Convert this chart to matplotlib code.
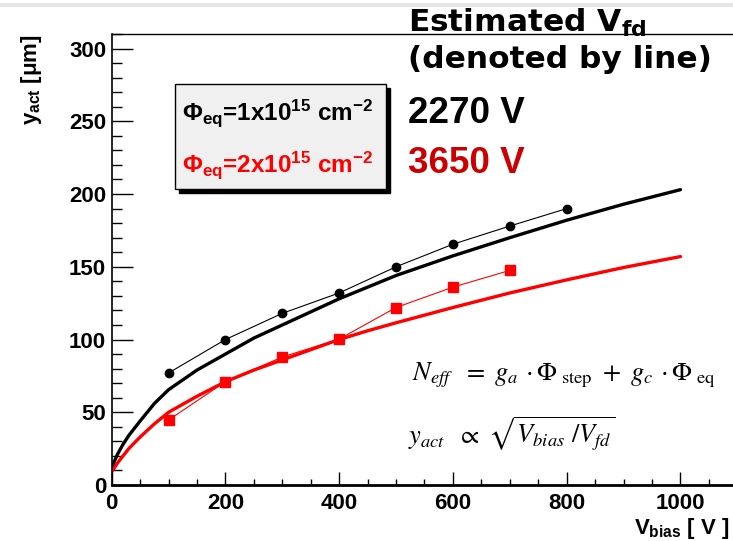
import numpy as np
import matplotlib
matplotlib.use("Agg")
import matplotlib.pyplot as plt
from matplotlib.patches import Rectangle

plt.rcParams['font.family'] = ['Liberation Sans', 'DejaVu Sans']
plt.rcParams['axes.unicode_minus'] = False
plt.rcParams['mathtext.fontset'] = 'custom'
plt.rcParams['mathtext.rm'] = 'Liberation Sans:bold'
plt.rcParams['mathtext.it'] = 'Liberation Sans:bold'
plt.rcParams['mathtext.bf'] = 'Liberation Sans:bold'

# measured points
v_meas = [100, 200, 300, 400, 500, 600, 700, 800]
y_phi1 = [77, 100, 118, 132, 150, 165.5, 178, 190]
v_meas2 = [100, 200, 300, 400, 500, 600, 700]
y_phi2 = [44.7, 71, 88, 100.3, 122, 136, 147.5]

# estimated curves
v_curve = [0, 10, 20, 30, 50, 75, 100, 150, 200, 250, 300, 350, 400, 450,
           500, 600, 700, 800, 900, 1000]
y_curve1 = [12, 21, 28, 34, 44, 56, 65.5, 79, 90, 101, 110, 119, 128, 136,
            144, 157.5, 170, 182, 193, 203]
y_curve2 = [9, 15, 20, 25, 33, 42, 50, 61, 71, 79, 86, 93, 100, 106,
            111.5, 122, 132, 141, 149.5, 157]

vfd_labels = ['2270 V', '3650 V']
legend_labels = [r'$\Phi_{eq}$=1x10$^{15}$ cm$^{-2}$',
                 r'$\Phi_{eq}$=2x10$^{15}$ cm$^{-2}$']

W, H = 733, 541
fig = plt.figure(figsize=(W / 100, H / 100), dpi=100)

def px(x, y):
    return x / W, 1 - y / H

ax = fig.add_axes([111.7 / W, 1 - 485 / H, (737.3 - 111.7) / W, 451 / H])
ax.set_xlim(0, 1100)
ax.set_ylim(0, 310)

ax.plot(v_curve, y_curve1, color='black', lw=2.4, solid_capstyle='round', solid_joinstyle='round')
ax.plot(v_curve, y_curve2, color='#ff0000', lw=2.4, solid_capstyle='round', solid_joinstyle='round')
ax.plot(v_meas, y_phi1, color='black', lw=0.8, marker='o', ms=6)
ax.plot(v_meas2, y_phi2, color='#ff0000', lw=0.8, marker='s', ms=7)

ax.set_xticks(np.arange(0, 1001, 200))
ax.set_xticks(np.arange(0, 1101, 50), minor=True)
ax.set_yticks(np.arange(0, 301, 50))
ax.set_yticks(np.arange(0, 311, 10), minor=True)
ax.tick_params(axis='y', which='major', direction='in', length=15, width=1, pad=4, labelsize=16)
ax.tick_params(axis='y', which='minor', direction='in', length=7, width=1)
ax.tick_params(axis='x', which='major', direction='in', length=9.5, width=1, pad=6, labelsize=16)
ax.tick_params(axis='x', which='minor', direction='in', length=4, width=1)
for lab in ax.get_xticklabels() + ax.get_yticklabels():
    lab.set_fontweight('bold')

ax.spines['right'].set_visible(False)
ax.spines['bottom'].set_linewidth(2)
ax.spines['left'].set_linewidth(1.2)
ax.spines['top'].set_linewidth(1)

ax.set_ylabel(r'$y_{act}$ [μm]', fontsize=16, fontweight='bold', loc='top', labelpad=18)
ax.set_xlabel(r'$V_{bias}$ [ V ]', fontsize=16, fontweight='bold', loc='right', labelpad=1)
ax.xaxis.label.set_x((730 - 111.7) / (737.3 - 111.7))

# legend box with shadow
x0, y0, x1, y1 = 175, 84, 386, 189
sx, sy = px(x0 + 4, y1 + 4)
fig.add_artist(Rectangle((sx, sy), (x1 - x0) / W, (y1 - y0) / H,
                         transform=fig.transFigure, facecolor='black', edgecolor='black'))
bx, by = px(x0, y1)
fig.add_artist(Rectangle((bx, by), (x1 - x0) / W, (y1 - y0) / H,
                         transform=fig.transFigure, facecolor='#f0f0f0', edgecolor='black', lw=1))
fig.text(*px(182, 120), legend_labels[0], fontsize=17.5, color='black', fontweight='bold')
fig.text(*px(182, 172), legend_labels[1], fontsize=17.5, color='#ff0000', fontweight='bold')

# estimated Vfd annotation
fig.text(*px(408, 32), r'Estimated $\mathbf{V}_{\mathbf{fd}}$', fontsize=22.5, fontweight='bold',
         family='DejaVu Sans', math_fontfamily='dejavusans')
fig.text(*px(408, 68), '(denoted by line)', fontsize=22.5, fontweight='bold', family='DejaVu Sans')
fig.text(*px(408, 123), vfd_labels[0], fontsize=26.5, fontweight='bold', color='black')
fig.text(*px(408, 173), vfd_labels[1], fontsize=26.5, fontweight='bold', color='#cc0000')

# formulas
fig.text(*px(412, 380), r'$N_{eff}\ \ =\ g_{a}\,\cdot\Phi_{\ \mathrm{step}}\ +\ g_{c}\,\cdot\Phi_{\ \mathrm{eq}}$',
         fontsize=19, math_fontfamily='stix')
fig.text(*px(408, 444), r'$y_{act}\ \ \propto\ \sqrt{V_{bias}\ /V_{fd}}$',
         fontsize=19, math_fontfamily='stix')

# slide border
fig.add_artist(Rectangle((0, 1 - 7 / H), 1, 4 / H, transform=fig.transFigure,
                         facecolor='#e6e6e6', edgecolor='none'))

fig.savefig('out.png', dpi=100)
